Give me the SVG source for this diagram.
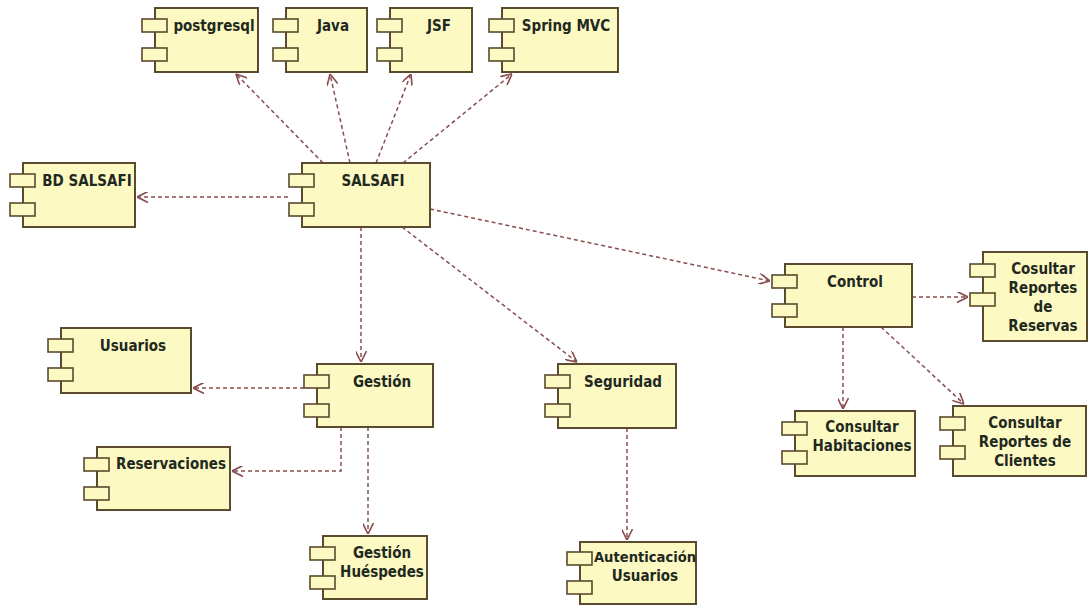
<svg xmlns="http://www.w3.org/2000/svg" width="1089" height="608" viewBox="0 0 1089 608">
  <defs>
    <style>
      .box { fill: #fdf9c3; stroke: #5a4a2e; stroke-width: 2; }
      .port { fill: #fdf9c3; stroke: #5a4a2e; stroke-width: 1.6; }
      .lbl { font-family: "DejaVu Sans Condensed", "DejaVu Sans", "Liberation Sans", sans-serif; font-stretch: condensed; font-weight: bold; font-size: 15px; fill: #1f291f; text-anchor: middle; }
      .sm { font-size: 14.6px; }
      .dep { fill: none; stroke: #8a4d4d; stroke-width: 1.5; stroke-dasharray: 4 3; marker-end: url(#open); }
    </style>
    <marker id="open" viewBox="0 0 10 10" refX="10" refY="5" markerWidth="11" markerHeight="11" markerUnits="userSpaceOnUse" orient="auto">
      <path d="M0,0 L10,5 L0,10" fill="none" stroke="#8a4d4d" stroke-width="1.5"/>
    </marker>
    <!-- the two small port tabs on the left side of a component -->
    <g id="tabs">
      <rect class="port" x="0" y="0" width="25" height="13"/>
      <rect class="port" x="0" y="29" width="25" height="13"/>
    </g>
  </defs>

  <rect width="1089" height="608" fill="#ffffff"/>

  <g id="connectors">
    <path class="dep" d="M323,163 L236,74"/>
    <path class="dep" d="M350,163 L330,74"/>
    <path class="dep" d="M376,163 L411,74"/>
    <path class="dep" d="M403,163 L512,74"/>
    <path class="dep" d="M288,197 L137,197"/>
    <path class="dep" d="M430,209 L770,281"/>
    <path class="dep" d="M361,227 L361,362"/>
    <path class="dep" d="M402,227 L577,362"/>
    <path class="dep" d="M912,297 L968,297"/>
    <path class="dep" d="M843,327 L843,409"/>
    <path class="dep" d="M881,327 L964,404"/>
    <path class="dep" d="M304,388 L193,388"/>
    <path class="dep" d="M341,427 L341,471 L232,471"/>
    <path class="dep" d="M368,427 L368,534"/>
    <path class="dep" d="M627,428 L627,540"/>
  </g>

  <g id="postgresql">
    <rect class="box" x="155" y="8" width="103" height="64"/>
    <use href="#tabs" x="142" y="19"/>
    <text class="lbl" x="214" y="31">postgresql</text>
  </g>
  <g id="java">
    <rect class="box" x="286" y="8" width="81" height="64"/>
    <use href="#tabs" x="273" y="19"/>
    <text class="lbl" x="333" y="31">Java</text>
  </g>
  <g id="jsf">
    <rect class="box" x="390" y="8" width="82" height="64"/>
    <use href="#tabs" x="377" y="19"/>
    <text class="lbl" x="439" y="31">JSF</text>
  </g>
  <g id="spring-mvc">
    <rect class="box" x="502" y="8" width="116" height="64"/>
    <use href="#tabs" x="489" y="19"/>
    <text class="lbl" x="566" y="31">Spring MVC</text>
  </g>

  <g id="bd-salsafi">
    <rect class="box" x="23" y="163" width="112" height="64"/>
    <use href="#tabs" x="10" y="174"/>
    <text class="lbl" x="87" y="186">BD SALSAFI</text>
  </g>
  <g id="salsafi">
    <rect class="box" x="302" y="163" width="128" height="64"/>
    <use href="#tabs" x="289" y="174"/>
    <text class="lbl" x="373" y="186">SALSAFI</text>
  </g>

  <g id="control">
    <rect class="box" x="785" y="264" width="127" height="63"/>
    <use href="#tabs" x="772" y="275"/>
    <text class="lbl" x="855" y="287">Control</text>
  </g>
  <g id="reportes-reservas">
    <rect class="box" x="983" y="252" width="104" height="89"/>
    <use href="#tabs" x="970" y="264"/>
    <text class="lbl" x="1043" y="274">Cosultar</text>
    <text class="lbl" x="1043" y="293">Reportes</text>
    <text class="lbl" x="1043" y="312">de</text>
    <text class="lbl" x="1043" y="331">Reservas</text>
  </g>

  <g id="usuarios">
    <rect class="box" x="61" y="328" width="130" height="65"/>
    <use href="#tabs" x="48" y="339"/>
    <text class="lbl" x="133" y="351">Usuarios</text>
  </g>
  <g id="gestion">
    <rect class="box" x="317" y="364" width="116" height="63"/>
    <use href="#tabs" x="304" y="375"/>
    <text class="lbl" x="382" y="387">Gestión</text>
  </g>
  <g id="seguridad">
    <rect class="box" x="558" y="364" width="118" height="64"/>
    <use href="#tabs" x="545" y="375"/>
    <text class="lbl" x="623" y="387">Seguridad</text>
  </g>

  <g id="consultar-habitaciones">
    <rect class="box" x="795" y="411" width="120" height="65"/>
    <use href="#tabs" x="782" y="422"/>
    <text class="lbl" x="862" y="432">Consultar</text>
    <text class="lbl" x="862" y="451">Habitaciones</text>
  </g>
  <g id="reportes-clientes">
    <rect class="box" x="953" y="406" width="133" height="70"/>
    <use href="#tabs" x="940" y="417"/>
    <text class="lbl" x="1025" y="428">Consultar</text>
    <text class="lbl" x="1025" y="447">Reportes de</text>
    <text class="lbl" x="1025" y="466">Clientes</text>
  </g>

  <g id="reservaciones">
    <rect class="box" x="97" y="447" width="133" height="63"/>
    <use href="#tabs" x="84" y="458"/>
    <text class="lbl" x="171" y="469">Reservaciones</text>
  </g>
  <g id="gestion-huespedes">
    <rect class="box" x="323" y="536" width="104" height="63"/>
    <use href="#tabs" x="310" y="547"/>
    <text class="lbl" x="382" y="558">Gestión</text>
    <text class="lbl" x="382" y="577">Huéspedes</text>
  </g>
  <g id="autenticacion-usuarios">
    <rect class="box" x="580" y="542" width="116" height="62"/>
    <use href="#tabs" x="567" y="552"/>
    <text class="lbl sm" x="645" y="562">Autenticación</text>
    <text class="lbl" x="645" y="581">Usuarios</text>
  </g>
</svg>
